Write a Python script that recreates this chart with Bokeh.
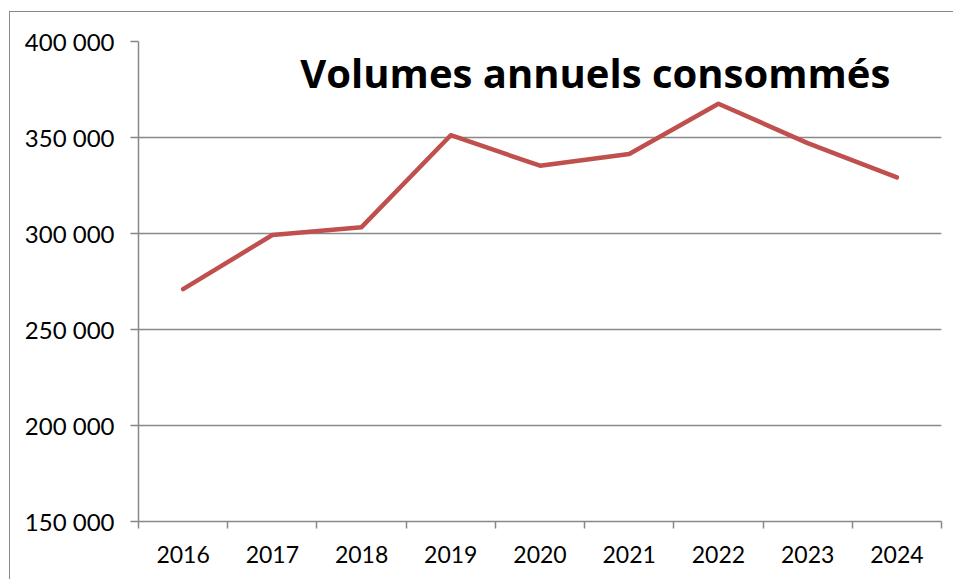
from bokeh.plotting import figure
from bokeh.models import Range1d, FixedTicker, Label
from bokeh.embed import file_html
from bokeh.resources import INLINE

# ---- data ----
years = ["2016", "2017", "2018", "2019", "2020", "2021", "2022", "2023", "2024"]
volumes = [271000, 299200, 303300, 351200, 335300, 341400, 367600, 347100, 329200]
y_ticks = [150000, 200000, 250000, 300000, 350000, 400000]
y_tick_labels = ["150 000", "200 000", "250 000", "300 000", "350 000", "400 000"]
title_text = "Volumes annuels consommés"

FONT = "Lato"
GRID = "#888888"

xs = [i + 0.5 for i in range(len(years))]

p = figure(width=944, height=568, output_backend="svg", toolbar_location=None,
           x_range=Range1d(0, len(years)), y_range=Range1d(y_ticks[0], y_ticks[-1]),
           min_border_left=128, min_border_right=13, min_border_top=29, min_border_bottom=59,
           margin=(11, 0, 0, 9),
           styles={"border-left": "1.5px solid #888888", "border-top": "1.5px solid #888888"})
p.outline_line_color = None
p.background_fill_color = "white"
p.border_fill_color = "white"

# y axis
p.yaxis.ticker = FixedTicker(ticks=y_ticks)
p.yaxis.major_label_overrides = {t: l for t, l in zip(y_ticks, y_tick_labels)}
p.yaxis.axis_line_color = GRID
p.yaxis.axis_line_width = 1.5
p.yaxis.major_tick_line_color = GRID
p.yaxis.major_tick_line_width = 1.5
p.yaxis.major_tick_out = 8
p.yaxis.major_tick_in = 0
p.yaxis.minor_tick_line_color = None
p.yaxis.major_label_standoff = 16
p.yaxis.major_label_text_font = FONT
p.yaxis.major_label_text_font_size = "24px"
p.yaxis.major_label_text_color = "black"

# x axis: labels at category centres, tick marks at category boundaries
p.xaxis.ticker = FixedTicker(ticks=xs, minor_ticks=list(range(len(years) + 1)))
p.xaxis.major_label_overrides = {x: y for x, y in zip(xs, years)}
p.xaxis.axis_line_color = GRID
p.xaxis.axis_line_width = 1.5
p.xaxis.major_tick_line_color = None
p.xaxis.major_tick_out = 0
p.xaxis.major_tick_in = 0
p.xaxis.minor_tick_line_color = GRID
p.xaxis.minor_tick_line_width = 1.5
p.xaxis.minor_tick_out = 7
p.xaxis.minor_tick_in = 0
p.xaxis.major_label_standoff = 17
p.xaxis.major_label_text_font = FONT
p.xaxis.major_label_text_font_size = "23px"
p.xaxis.major_label_text_color = "black"

# grid
p.xgrid.grid_line_color = None
p.ygrid.ticker = FixedTicker(ticks=y_ticks)
p.ygrid.grid_line_color = GRID
p.ygrid.grid_line_width = 1.5

# series
p.line(xs, volumes, line_color="#C0504D", line_width=4.5,
       line_join="round", line_cap="round")

# in-plot title
p.add_layout(Label(x=5.12, y=384000, text=title_text, text_align="center",
                   text_baseline="alphabetic", text_font="Open Sans",
                   text_font_style="bold", text_font_size="40px",
                   text_color="black"))

open("out.html", "w").write(file_html(p, INLINE))
